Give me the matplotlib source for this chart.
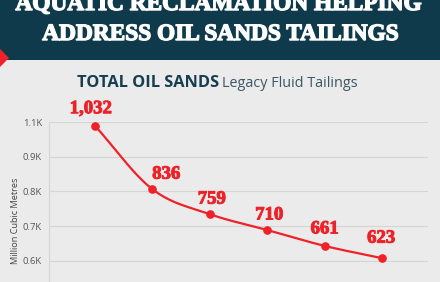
import numpy as np
import matplotlib
matplotlib.use("Agg")
import matplotlib.pyplot as plt
from matplotlib.patches import Rectangle, Polygon
import matplotlib.patheffects as pe

# ---- data ----
categories = ["1", "2", "3", "4", "5", "6"]
values = [1032, 836, 759, 710, 661, 623]
value_labels = ["1,032", "836", "759", "710", "661", "623"]
tick_labels = ["0.6K", "0.7K", "0.8K", "0.9K", "1.1K"]

header_lines = ["AQUATIC RECLAMATION HELPING", "ADDRESS OIL SANDS TAILINGS"]
title_bold = "TOTAL OIL SANDS"
title_rest = "Legacy Fluid Tailings"
ylabel = "Million Cubic Metres"

# ---- styles ----
W, H = 440, 282
BG = "#ebebeb"
TEAL = "#0f3a4b"
RED = "#ee2228"
# label baseline offsets in points (dx, dy above point)
label_offsets = [(-3, 9), (10, 7.6), (1.5, 7.6), (1.5, 7.6), (0, 9), (-0.7, 11.2)]

fig = plt.figure(figsize=(W / 100, H / 100), dpi=100)
fig.patch.set_facecolor(BG)

def fx(px):
    return px / W

def fy(py):
    return 1 - py / H

# header band
fig.patches.append(Rectangle((0, fy(59.5)), 1, 59.5 / H, transform=fig.transFigure,
                             facecolor=TEAL, edgecolor="none", zorder=0))
fig.patches.append(Polygon([(fx(-9), fy(58)), (fx(0), fy(49)), (fx(9), fy(58)), (fx(0), fy(67))],
                           closed=True, transform=fig.transFigure, facecolor=RED,
                           edgecolor="none", zorder=1))
heavy_white = [pe.withStroke(linewidth=1.0, foreground="white")]
fig.text(fx(219), fy(10), header_lines[0], ha="center", va="baseline", color="white",
         fontsize=16.8, fontweight="bold", family="Liberation Serif", path_effects=heavy_white)
fig.text(fx(220.5), fy(40), header_lines[1], ha="center", va="baseline", color="white",
         fontsize=16.8, fontweight="bold", family="Liberation Serif", path_effects=heavy_white)

# title
t1 = fig.text(fx(77), fy(87), title_bold + " ", ha="left", va="baseline", color="#163e4f",
              fontsize=11.8, fontweight="bold", family="Open Sans")
fig.canvas.draw()
bb = t1.get_window_extent()
fig.text(bb.x1 / W - 0.004, fy(87), title_rest, ha="left", va="baseline", color="#3c5663",
         fontsize=10.4, family="Open Sans")

# axes
top_px, bot_px = 122, 300
left_px, right_px = 49, 428
ax = fig.add_axes([fx(left_px), fy(bot_px), (right_px - left_px) / W, (bot_px - top_px) / H])
ax.set_facecolor(BG)
x = np.arange(len(values))
y = np.array(values, dtype=float)

px_per_unit = 0.324
y_top = 1043.4
y_bot = y_top - (bot_px - top_px) / px_per_unit
ax.set_ylim(y_bot, y_top)
ax.set_xlim(-0.8, len(values) - 1 + 0.8)

ticks = np.linspace(615.3, y_top, len(tick_labels))
ax.set_yticks(ticks)
ax.set_yticklabels(tick_labels)
ax.set_xticks([])
ax.tick_params(axis="y", length=0, pad=5, labelsize=6.8, labelcolor="#555555")
for lab in ax.get_yticklabels():
    lab.set_family("Open Sans")
ax.grid(axis="y", color="#d5d5d5", linewidth=0.8)
ax.set_axisbelow(True)
for s in ["top", "right", "bottom"]:
    ax.spines[s].set_visible(False)
ax.spines["left"].set_color("#d5d5d5")
ax.spines["left"].set_linewidth(0.8)

# smooth line (Catmull-Rom style Hermite through data points)
n = len(y)
m = np.zeros(n)
m[0] = y[1] - y[0]
m[-1] = y[-1] - y[-2]
m[1:-1] = (y[2:] - y[:-2]) / 2
xs, ys = [], []
for i in range(n - 1):
    t = np.linspace(0, 1, 40)
    h00 = 2 * t**3 - 3 * t**2 + 1
    h10 = t**3 - 2 * t**2 + t
    h01 = -2 * t**3 + 3 * t**2
    h11 = t**3 - t**2
    xs.append(x[i] + t)
    ys.append(h00 * y[i] + h10 * m[i] + h01 * y[i + 1] + h11 * m[i + 1])
ax.plot(np.concatenate(xs), np.concatenate(ys), color=RED, lw=1.6, solid_capstyle="round", zorder=3)
ax.plot(x, y, "o", color=RED, ms=5.2, zorder=4)

heavy_red = [pe.withStroke(linewidth=0.7, foreground=RED)]
for xi, yi, lab, (dx, dy) in zip(x, y, value_labels, label_offsets):
    ax.annotate(lab, (xi, yi), xytext=(dx, dy), textcoords="offset points",
                ha="center", va="baseline", color=RED, fontsize=13.5, fontweight="bold",
                family="Liberation Serif", zorder=5, path_effects=heavy_red)

fig.text(fx(15.7), fy(221), ylabel, rotation=90, ha="center", va="center",
         color="#444444", fontsize=6.6, family="Open Sans")

fig.savefig("out.png", dpi=100, facecolor=BG)
